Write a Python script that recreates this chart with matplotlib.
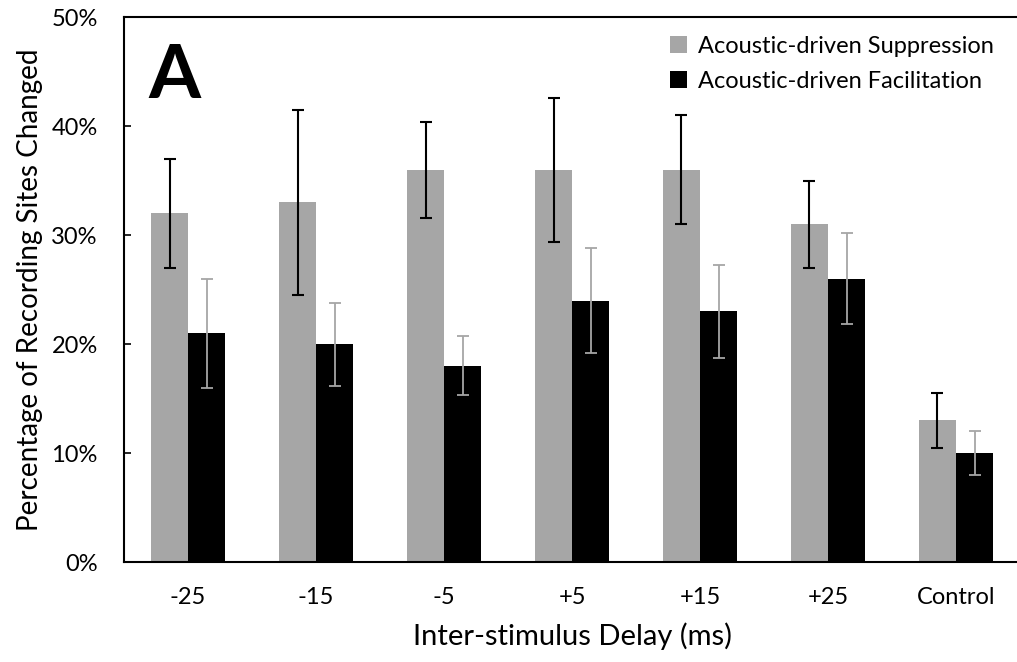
import numpy as np
import matplotlib.pyplot as plt
from matplotlib.ticker import PercentFormatter

plt.rcParams['font.family'] = ['Lato', 'DejaVu Sans']

categories = ['-25', '-15', '-5', '+5', '+15', '+25', 'Control']
suppression = [32, 33, 36, 36, 36, 31, 13]
suppression_err = [5.0, 8.5, 4.4, 6.6, 5.0, 4.0, 2.5]
facilitation = [21, 20, 18, 24, 23, 26, 10]
facilitation_err = [5.0, 3.8, 2.7, 4.8, 4.3, 4.2, 2.0]

gray = '#a6a6a6'

fig = plt.figure(figsize=(10.17, 6.62), dpi=100)
ax = fig.add_axes([0.122, 0.151, 0.881, 0.823])

x = np.arange(len(categories))
w = 0.29
ax.bar(x - w / 2, suppression, w, color=gray, label='Acoustic-driven Suppression', zorder=2)
ax.bar(x + w / 2, facilitation, w, color='black', label='Acoustic-driven Facilitation', zorder=2)
ax.errorbar(x - w / 2, suppression, yerr=suppression_err, fmt='none', ecolor='black',
            elinewidth=1.5, capsize=4.5, capthick=1.5, zorder=3)
ax.errorbar(x + w / 2, facilitation, yerr=facilitation_err, fmt='none', ecolor=gray,
            elinewidth=1.3, capsize=4.5, capthick=1.3, zorder=3)

ax.set_xlim(-0.5, 6.5)
ax.set_ylim(0, 50)
ax.set_yticks([0, 10, 20, 30, 40, 50])
ax.yaxis.set_major_formatter(PercentFormatter(decimals=0))
ax.set_xticks(x)
ax.set_xticklabels(categories)
ax.tick_params(axis='x', length=0, pad=18, labelsize=17)
ax.tick_params(axis='y', direction='in', length=5, width=1.2, pad=19, labelsize=17)

for side in ['left', 'top', 'bottom']:
    ax.spines[side].set_linewidth(1.5)
ax.spines['right'].set_visible(False)

ax.set_xlabel('Inter-stimulus Delay (ms)', fontsize=21, labelpad=10)
ax.set_ylabel('Percentage of Recording Sites Changed', fontsize=20, labelpad=6)

ax.text(0.027, 0.955, 'A', transform=ax.transAxes, fontsize=54, fontweight='bold',
        va='top', ha='left')

ax.legend(loc='upper right', frameon=False, fontsize=17, handlelength=0.7,
          handleheight=0.7, handletextpad=0.5, labelspacing=0.6,
          bbox_to_anchor=(0.995, 1.005))

fig.savefig('out.png', dpi=100)
